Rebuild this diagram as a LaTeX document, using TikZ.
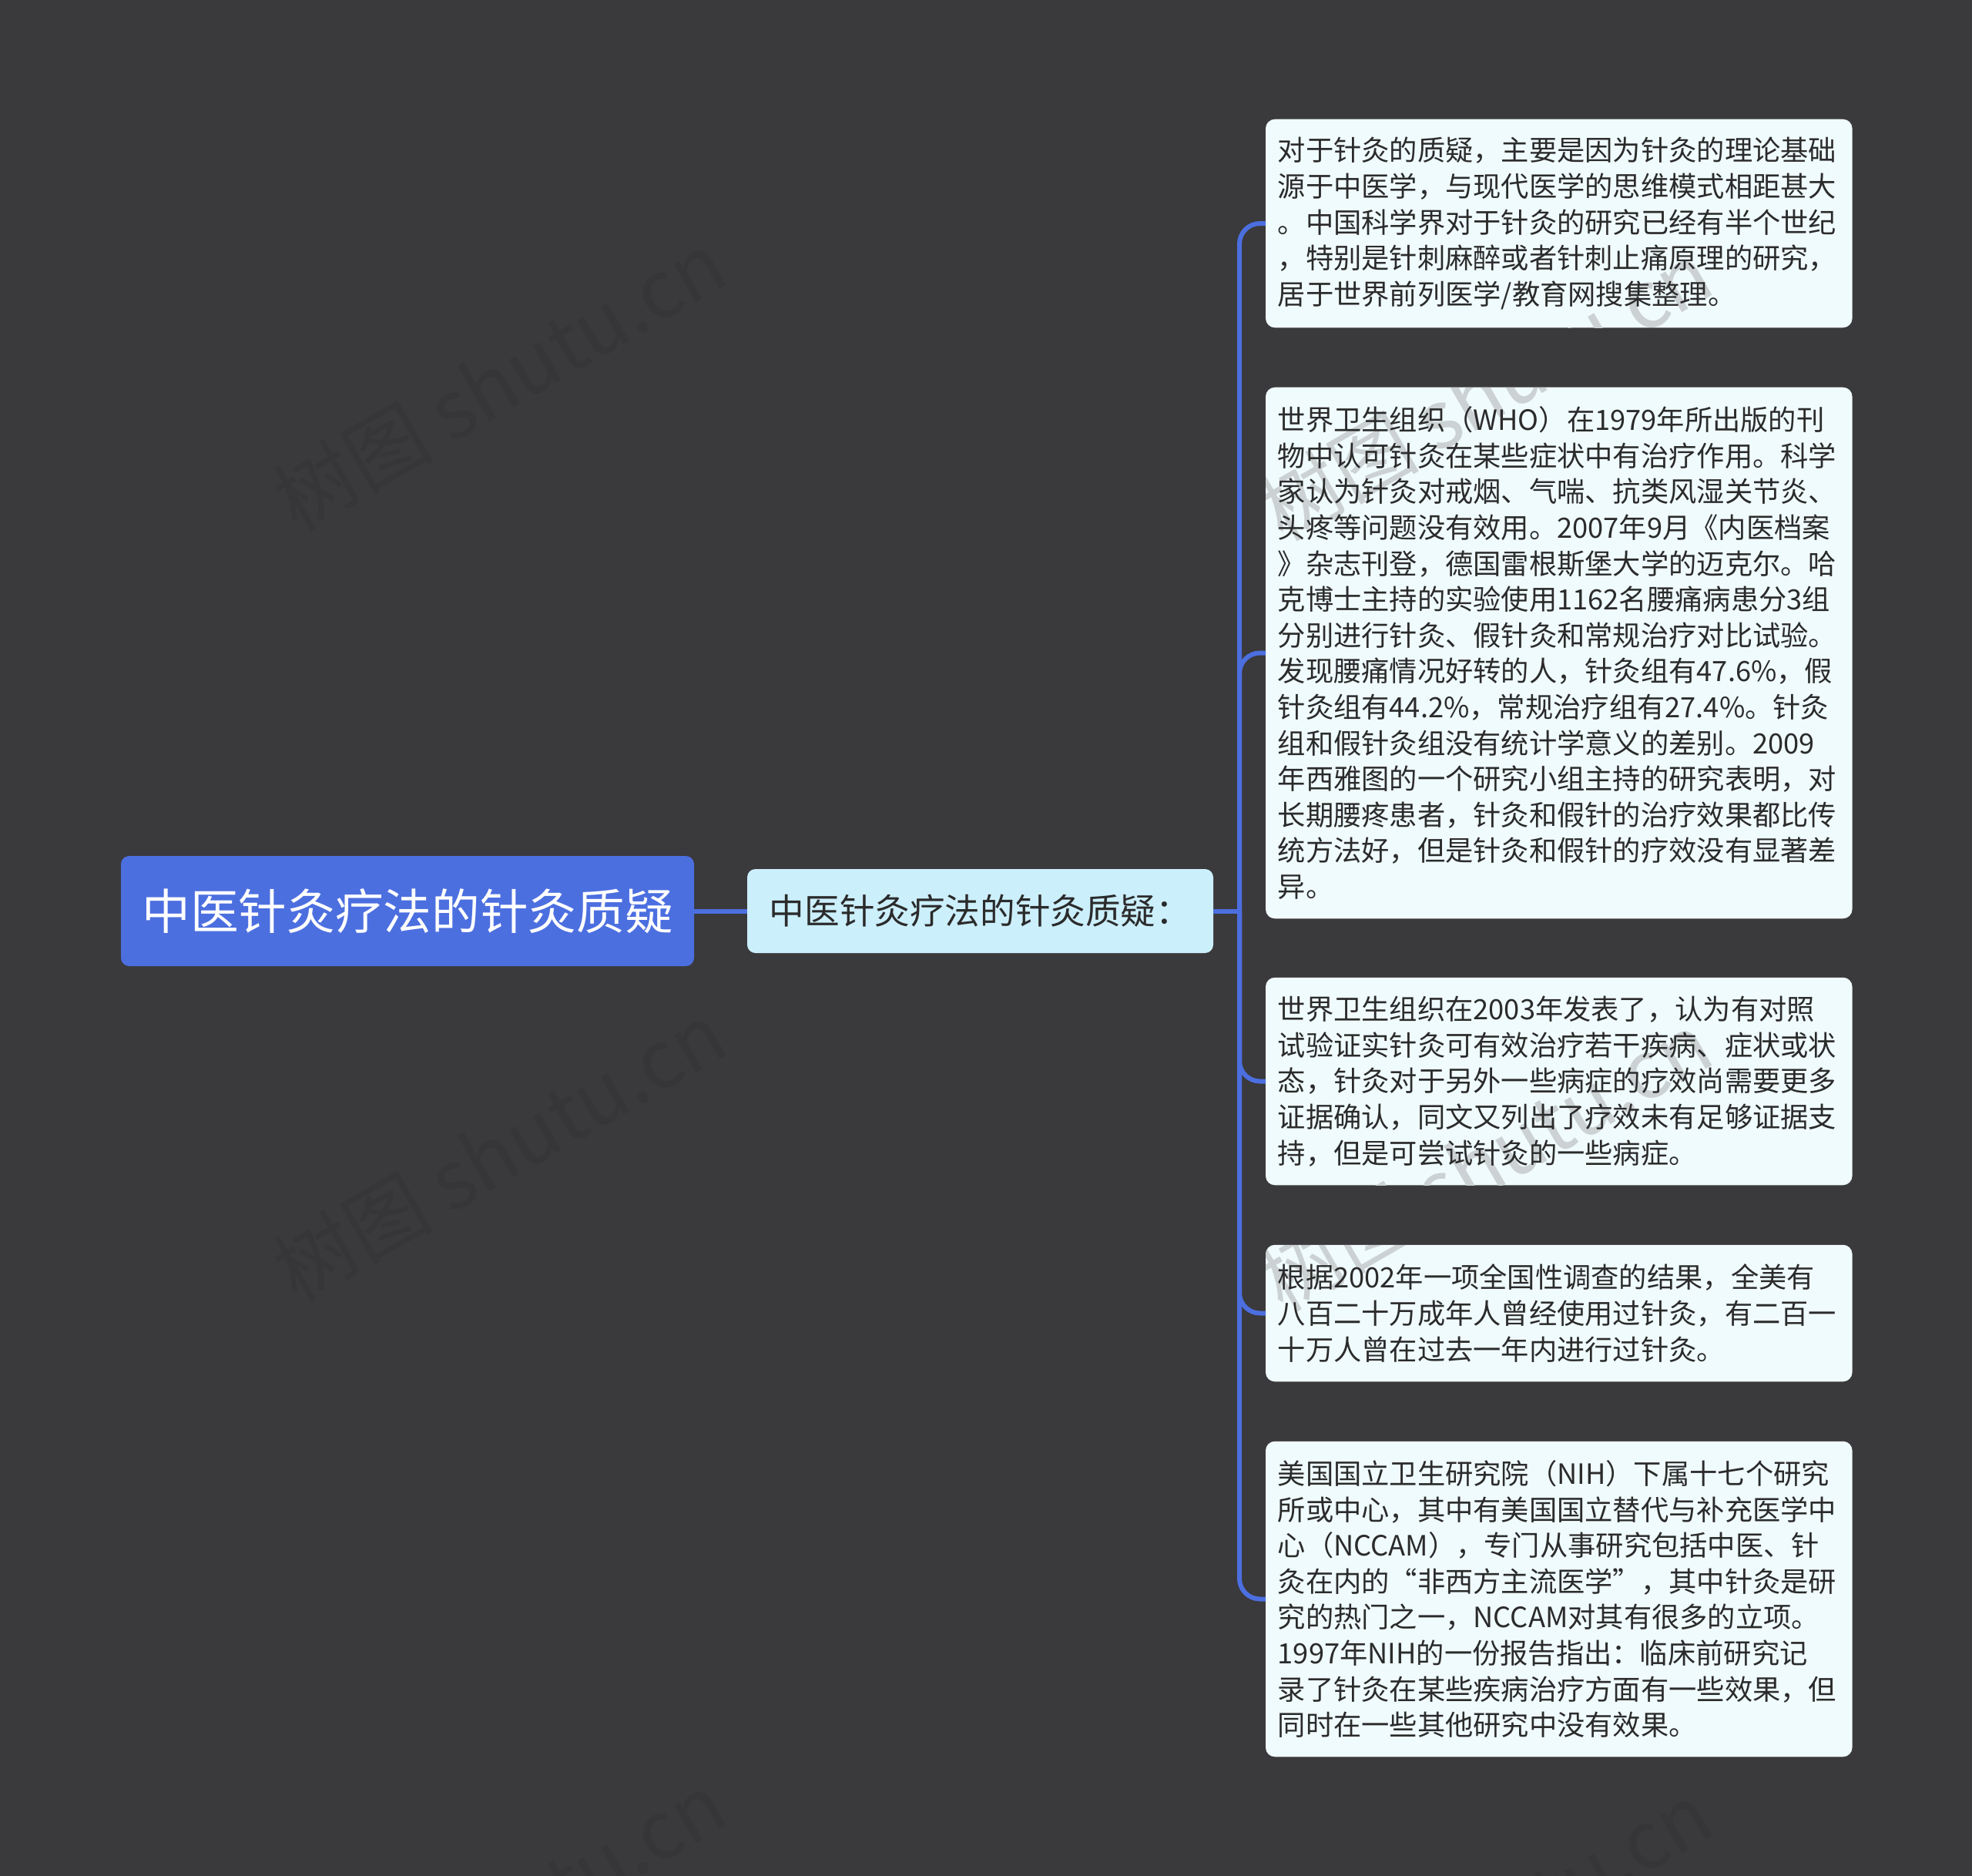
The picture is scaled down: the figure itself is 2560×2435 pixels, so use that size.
\documentclass[tikz,border=0pt]{standalone}
\usepackage{fontspec}
\setmainfont{Noto Sans CJK SC}
\usetikzlibrary{calc}
\definecolor{bgc}{HTML}{3A393B}
\definecolor{rootc}{HTML}{4C6FE0}
\definecolor{midc}{HTML}{CCEFFC}
\definecolor{leafc}{HTML}{F0FBFD}
\definecolor{linec}{HTML}{4C6FE0}
\definecolor{txtc}{HTML}{2B2B2B}
\definecolor{wmlowc}{HTML}{363537}
\definecolor{wmhighc}{HTML}{CCD2D3}
\pgfdeclarelayer{bglayer}
\pgfdeclarelayer{wmlow}
\pgfdeclarelayer{fills}
\pgfdeclarelayer{wmhigh}
\pgfsetlayers{bglayer,wmlow,fills,wmhigh,main}
\tikzset{
  rootbox/.style={rectangle, rounded corners=8pt, fill=rootc, text=white,
    font=\fontsize{47pt}{56pt}\selectfont, minimum width=558pt, minimum height=107.25pt, inner sep=0pt},
  midbox/.style={rectangle, rounded corners=8pt, fill=midc, text=txtc,
    font=\fontsize{34.2pt}{40pt}\selectfont, minimum width=453.75pt, minimum height=81.75pt, inner sep=0pt},
  leafbox/.style={rectangle, text=txtc, anchor=west,
    font=\fontsize{27.2pt}{34.95pt}\selectfont, text width=547.5pt, align=left,
    inner xsep=11.6pt, inner ysep=0pt, minimum width=570.75pt},
  leaffill/.style={fill=leafc, rounded corners=9pt},
  conn/.style={draw=linec, line width=4.5pt},
  wmark/.style={rotate=30, anchor=base west,
    font=\fontsize{78pt}{80pt}\selectfont, inner sep=0pt}
}
\begin{document}
\begin{tikzpicture}[x=0.75pt,y=-0.75pt]
\begin{pgfonlayer}{bglayer}
\fill[bgc] (0,0) rectangle (2560,2435);
\end{pgfonlayer}
\useasboundingbox (0,0) rectangle (2560,2435);

\node[rootbox] (root) at (529,1182.5) {中医针灸疗法的针灸质疑};
\node[midbox] (mid) at (1272.5,1182.5) {中医针灸疗法的针灸质疑：};

\node[leafbox, minimum height=202.5pt] (b1) at (1643,290) {对于针灸的质疑，主要是因为针灸的理论基础\\
源于中医学，与现代医学的思维模式相距甚大\\
。中国科学界对于针灸的研究已经有半个世纪\\
，特别是针刺麻醉或者针刺止痛原理的研究，\\
居于世界前列医学/教育网搜集整理。};

\node[leafbox, minimum height=516.75pt] (b2) at (1643,847.5) {世界卫生组织（WHO）在1979年所出版的刊\\
物中认可针灸在某些症状中有治疗作用。科学\\
家认为针灸对戒烟、气喘、抗类风湿关节炎、\\
头疼等问题没有效用。2007年9月《内医档案\\
》杂志刊登，德国雷根斯堡大学的迈克尔。哈\\
克博士主持的实验使用1162名腰痛病患分3组\\
分别进行针灸、假针灸和常规治疗对比试验。\\
发现腰痛情况好转的人，针灸组有47.6\%，假\\
针灸组有44.2\%，常规治疗组有27.4\%。针灸\\
组和假针灸组没有统计学意义的差别。2009\\
年西雅图的一个研究小组主持的研究表明，对\\
长期腰疼患者，针灸和假针的治疗效果都比传\\
统方法好，但是针灸和假针的疗效没有显著差\\
异。};

\node[leafbox, minimum height=201.75pt] (b3) at (1643,1403.5) {世界卫生组织在2003年发表了，认为有对照\\
试验证实针灸可有效治疗若干疾病、症状或状\\
态，针灸对于另外一些病症的疗效尚需要更多\\
证据确认，同文又列出了疗效未有足够证据支\\
持，但是可尝试针灸的一些病症。};

\node[leafbox, minimum height=132.75pt] (b4) at (1643,1704.5) {根据2002年一项全国性调查的结果，全美有\\
八百二十万成年人曾经使用过针灸，有二百一\\
十万人曾在过去一年内进行过针灸。};

\node[leafbox, minimum height=306.75pt] (b5) at (1643,2075.5) {美国国立卫生研究院（NIH）下属十七个研究\\
所或中心，其中有美国国立替代与补充医学中\\
心（NCCAM），专门从事研究包括中医、针\\
灸在内的“非西方主流医学”，其中针灸是研\\
究的热门之一，NCCAM对其有很多的立项。\\
1997年NIH的一份报告指出：临床前研究记\\
录了针灸在某些疾病治疗方面有一些效果，但\\
同时在一些其他研究中没有效果。};

\begin{pgfonlayer}{fills}
\foreach \b in {b1,b2,b3,b4,b5}{
  \fill[leaffill] (\b.north west) rectangle (\b.south east);
}
\end{pgfonlayer}

\begin{pgfonlayer}{wmlow}
\node[wmark, text=wmlowc] (wma) at (385,692) {树图 shutu.cn};
\node[wmark, text=wmlowc] (wmb) at (385,1692) {树图 shutu.cn};
\node[wmark, text=wmlowc] (wmc) at (385,2692) {树图 shutu.cn};
\node[wmark, text=wmlowc] (wmf) at (1665,2705) {树图 shutu.cn};
\end{pgfonlayer}

\begin{pgfonlayer}{wmhigh}
\begin{scope}
\clip[rounded corners=9pt] (b1.north west) rectangle (b1.south east)
  (b2.north west) rectangle (b2.south east)
  (b3.north west) rectangle (b3.south east)
  (b4.north west) rectangle (b4.south east)
  (b5.north west) rectangle (b5.south east);
\node[wmark, text=wmhighc] (wmd) at (1665,705) {树图 shutu.cn};
\node[wmark, text=wmhighc] (wme) at (1665,1705) {树图 shutu.cn};
\end{scope}
\end{pgfonlayer}

\coordinate (hub) at (1609,1182.5);
\draw[conn] (root.east) -- (mid.west);
\draw[conn] (mid.east) -- (hub);
\foreach \b in {b1,b2,b3,b4,b5}{
  \draw[conn, rounded corners=20pt] (hub) |- (\b.west);
}
\end{tikzpicture}
\end{document}
